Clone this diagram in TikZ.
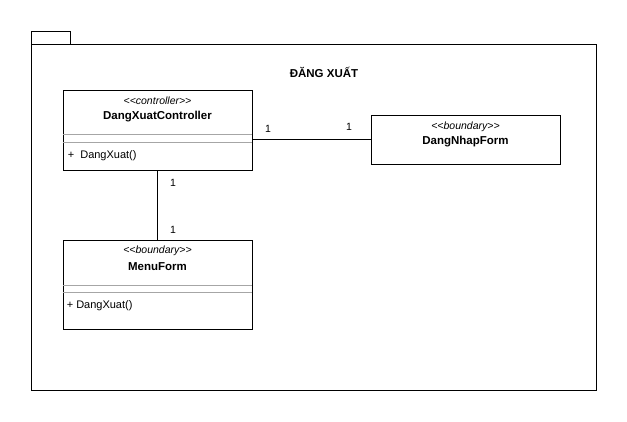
\documentclass[tikz,border=0pt]{standalone}
\usepackage{fontspec}
\setmainfont{Liberation Sans}
\usepackage{tikz}

\begin{document}
\begin{tikzpicture}[x = 1pt, y = -1pt, line width = 0.9pt,
                        classbox/.style = {rectangle, draw, minimum width = 189pt, inner sep = 0pt},
                        stereo/.style = {font = \fontsize{10.5}{12}\selectfont\itshape},
                        cname/.style = {font = \fontsize{11.5}{13}\selectfont\bfseries},
                        member/.style = {font = \fontsize{11}{13}\selectfont, anchor = west},
                        mult/.style = {font = \fontsize{10.5}{12}\selectfont},
                        sep/.style = {draw = gray!70, line width = 0.8pt}]
      \useasboundingbox (0, 0) rectangle (627, 421);
      % package frame
      \draw (31, 44) rectangle (70, 31);
      \node [draw, minimum width = 565pt, minimum height = 346pt, inner sep = 0pt] (pkg) at (313.5, 217){};
      \node [font = \fontsize{11.5}{13}\selectfont\bfseries] (title) at (324, 72){ĐĂNG XUẤT};
      % classes
      \node [classbox, minimum height = 80pt] (ctrl) at (157.5, 130){};
      \node [stereo] (ctrlst) at (157.5, 101){{<}{<}controller{>}{>}};
      \node [cname] (ctrlnm) at (157.5, 116.5){DangXuatController};
      \draw [sep] (63, 134) -- (252, 134);
      \draw [sep] (63, 142) -- (252, 142);
      \node [member] (ctrlop) at (64, 156){+\ \ DangXuat()};
      \node [classbox, minimum height = 49pt] (nhap) at (465.5, 139.5){};
      \node [stereo] (nhapst) at (465.5, 127){{<}{<}boundary{>}{>}};
      \node [cname] (nhapnm) at (465.5, 141.5){DangNhapForm};
      \node [classbox, minimum height = 89pt] (menu) at (157.5, 284.5){};
      \node [stereo] (menust) at (157.5, 251){{<}{<}boundary{>}{>}};
      \node [cname] (menunm) at (157.5, 266.5){MenuForm};
      \draw [sep] (63, 285) -- (252, 285);
      \draw [sep] (63, 292) -- (252, 292);
      \node [member] (menuop) at (63, 306){+ DangXuat()};
      % associations
      \draw (ctrl.east |- nhap.west) -- (nhap.west);
      \draw (ctrl.south) -- (menu.north);
      \node [mult] (m1) at (268, 129){1};
      \node [mult] (m2) at (349, 127){1};
      \node [mult] (m3) at (173, 183){1};
      \node [mult] (m4) at (173, 230){1};
    \end{tikzpicture}
\end{document}
